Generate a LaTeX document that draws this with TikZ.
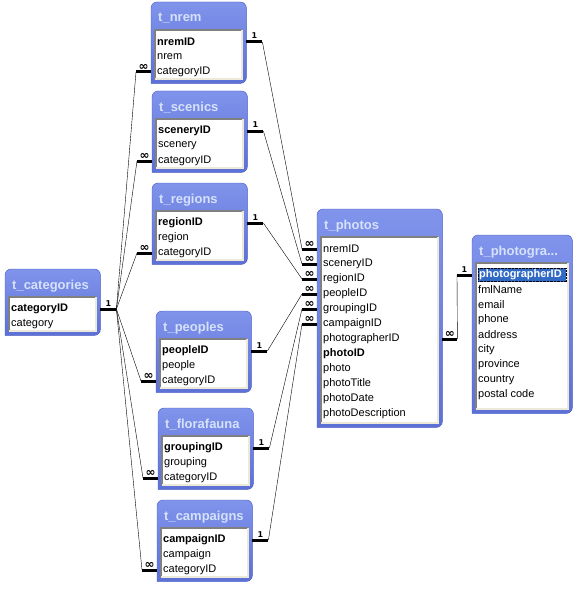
\documentclass[tikz,border=0pt]{standalone}
\usepackage{fontspec}
\setmainfont{Liberation Sans}
\newfontfamily\cardfont{DejaVu Sans}
\definecolor{tbltop}{RGB}{128,148,236}
\definecolor{tblbot}{RGB}{92,112,214}
\definecolor{tbledge}{RGB}{70,88,196}
\definecolor{tbltext}{RGB}{214,225,250}
\definecolor{selblue}{RGB}{49,106,197}
\definecolor{insetdark}{RGB}{128,128,128}
\definecolor{insetlight}{RGB}{236,233,216}
\usetikzlibrary{calc}
\tikzset{
  tblshape/.style={top color=tbltop, bottom color=tblbot, draw=tbledge},
  tbltitle/.style={text=tbltext, font=\bfseries\fontsize{13}{15}\selectfont, inner sep=0pt},
  field/.style={font=\fontsize{11}{13}\selectfont, inner sep=0pt},
  plainfield/.style={},
  keyfield/.style={font=\bfseries\fontsize{11}{13}\selectfont},
  selfield/.style={keyfield, fill=selblue, text=white, draw=black, densely dotted,
    inner xsep=1pt, inner ysep=1.5pt, text width=86pt},
  stub/.style={line width=3pt},
  link/.style={thin},
  card/.style={font=\cardfont\bfseries\fontsize{8}{9}\selectfont, inner sep=1.5pt},
  many/.style={font=\cardfont\bfseries\fontsize{12}{12}\selectfont, inner sep=0pt},
  % a table box: title, width, height, list of style/field
  pics/dbtable/.style n args={4}{
    code={
      \node [minimum width=#2, minimum height=#3, anchor=north west, inner sep=0pt] (-body) at (0,0) {};
      \shadedraw [tblshape] (-body.south west) [rounded corners=6pt] -- (-body.north west)
        -- (-body.north east) -- (-body.south east) [sharp corners] -- cycle;
      \node [tbltitle, anchor=base west] (-title) at (7,20) {#1};
      \fill [white] (4,28) rectangle (#2-4,#3-4);
      \draw [insetdark, line width=1.5pt] (4,#3-4) -- (4,28) -- (#2-4,28);
      \draw [insetlight, line width=1.5pt] (#2-4,28) -- (#2-4,#3-4) -- (4,#3-4);
      \foreach \s/\f [count=\i] in {#4} {
        \node [field, \s, anchor=west] (-f\i) at (6,28+15*\i-3) {\f};
      }
    }
  }
}

\begin{document}
\begin{tikzpicture}[x=1pt, y=-1pt]
  \useasboundingbox (0,0) rectangle (582,591);

  \pic (nrem) at (151,2) {dbtable={t\_nrem}{95}{81}{keyfield/nremID, plainfield/nrem, plainfield/categoryID}};
  \pic (scenics) at (152,91) {dbtable={t\_scenics}{95}{81}{keyfield/sceneryID, plainfield/scenery, plainfield/categoryID}};
  \pic (regions) at (152,183) {dbtable={t\_regions}{95}{81}{keyfield/regionID, plainfield/region, plainfield/categoryID}};
  \pic (peoples) at (156,311) {dbtable={t\_peoples}{95}{81}{keyfield/peopleID, plainfield/people, plainfield/categoryID}};
  \pic (florafauna) at (158,408) {dbtable={t\_florafauna}{95}{81}{keyfield/groupingID, plainfield/grouping, plainfield/categoryID}};
  \pic (campaigns) at (157,500) {dbtable={t\_campaigns}{95}{81}{keyfield/campaignID, plainfield/campaign, plainfield/categoryID}};

  \pic (categories) at (5,269) {dbtable={t\_categories}{95}{66}{keyfield/categoryID, plainfield/category}};

  \pic (photos) at (317,209) {dbtable={t\_photos}{125}{218}{plainfield/nremID, plainfield/sceneryID,
    plainfield/regionID, plainfield/peopleID, plainfield/groupingID, plainfield/campaignID,
    plainfield/photographerID, keyfield/photoID, plainfield/photo, plainfield/photoTitle,
    plainfield/photoDate, plainfield/photoDescription}};

  \pic (photographers) at (472,235) {dbtable={t\_photogra...}{100}{178}{selfield/photographerID,
    plainfield/fmlName, plainfield/email, plainfield/phone, plainfield/address, plainfield/city,
    plainfield/province, plainfield/country, plainfield/postal code}};

  % lookup tables -> t_photos
  \foreach \t/\r in {nrem/1,scenics/2,regions/3,peoples/4,florafauna/5,campaigns/6} {
    \coordinate (\t-one) at ($(\t-f1 -| \t-body.east)+(16,0)$);
    \coordinate (photos-many\r) at ($(photos-f\r -| photos-body.west)+(-15,0)$);
    \draw [stub] (\t-f1 -| \t-body.east) -- node [card, above] {1} (\t-one);
    \draw [stub] (photos-many\r) -- node [many, above] {∞} (photos-f\r -| photos-body.west);
    \draw [link] (\t-one) -- (photos-many\r);
  }

  % t_categories -> lookup tables
  \coordinate (categories-one) at ($(categories-f1 -| categories-body.east)+(16,0)$);
  \draw [stub] (categories-f1 -| categories-body.east) -- node [card, above] {1} (categories-one);
  \foreach \t in {nrem,scenics,regions,peoples,florafauna,campaigns} {
    \coordinate (\t-many) at ($(\t-f3 -| \t-body.west)+(-15,0)$);
    \draw [stub] (\t-many) -- node [many, above] {∞} (\t-f3 -| \t-body.west);
    \draw [link] (categories-one) -- (\t-many);
  }

  % t_photos -> photographers
  \coordinate (photos-out) at ($(photos-f7 -| photos-body.east)+(15,0)$);
  \coordinate (photographers-one) at ($(photographers-f1 -| photographers-body.west)+(-15,0)$);
  \draw [stub] (photos-f7 -| photos-body.east) -- node [many, above] {∞} (photos-out);
  \draw [stub] (photographers-one) -- node [card, above] {1} (photographers-f1 -| photographers-body.west);
  \draw [link] (photos-out) -- (photographers-one);
\end{tikzpicture}
\end{document}
